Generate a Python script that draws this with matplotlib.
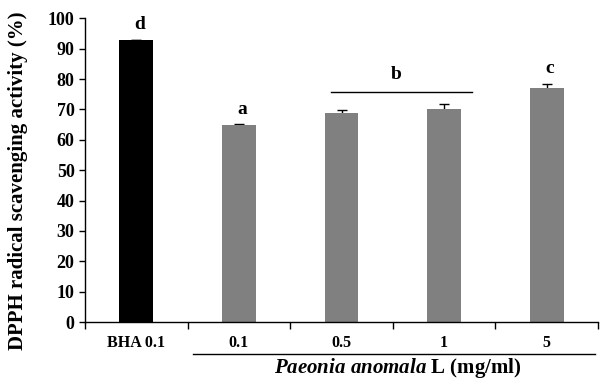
import matplotlib
matplotlib.use("Agg")
import matplotlib.pyplot as plt
import numpy as np

categories = ["BHA 0.1", "0.1", "0.5", "1", "5"]
values = [92.7, 64.8, 68.8, 70.1, 76.9]
errors = [0.0, 0.4, 0.9, 1.8, 1.3]
colors = ["black", "#808080", "#808080", "#808080", "#808080"]
letters = ["d", "a", "", "", "c"]
letter_y = [98.0, 70.0, 0, 0, 83.5]

plt.rcParams["font.family"] = ["Liberation Serif", "DejaVu Serif"]
plt.rcParams["font.weight"] = "bold"
plt.rcParams["mathtext.fontset"] = "custom"
plt.rcParams["mathtext.rm"] = "Liberation Serif:bold"
plt.rcParams["mathtext.it"] = "Liberation Serif:italic:bold"
plt.rcParams["mathtext.bf"] = "Liberation Serif:bold"

fig = plt.figure(figsize=(6.13, 3.85), dpi=100)
ax = fig.add_axes([0.1387, 0.1636, 0.8368, 0.789])

x = np.arange(len(categories))
# error bars behind the bars so only the upper half shows
ax.errorbar(x, values, yerr=errors, fmt="none", ecolor="black",
            capsize=3.5, elinewidth=1, capthick=1, zorder=1)
ax.bar(x, values, width=0.33, color=colors, zorder=2)

for xi, lab, yy in zip(x, letters, letter_y):
    if lab:
        ax.text(xi + 0.03, yy, lab, ha="center", va="center", fontsize=14, fontweight="bold")

# group line for b
ax.plot([1.9, 3.27], [75.7, 75.7], color="black", lw=1, clip_on=False)
ax.text(2.53, 81.5, "b", ha="center", va="center", fontsize=14, fontweight="bold")

ax.set_xlim(-0.5, 4.5)
ax.set_ylim(0, 100)
ax.set_yticks(range(0, 101, 10))
ax.set_xticks(np.arange(-0.5, 5, 1))
ax.set_xticklabels([])
ax.set_xticks(x, minor=True)
ax.set_xticklabels(categories, minor=True)
ax.tick_params(axis="x", which="minor", length=0, pad=9, labelsize=11.5)
ax.tick_params(axis="x", which="major", direction="out", length=5, width=1)
ax.tick_params(axis="y", direction="out", length=4, width=1, labelsize=13)
for lab in ax.get_xticklabels(minor=True) + ax.get_yticklabels():
    lab.set_fontweight("bold")

ax.spines["top"].set_visible(False)
ax.spines["right"].set_visible(False)
ax.spines["left"].set_linewidth(1)
ax.spines["bottom"].set_linewidth(1)

ax.set_ylabel("DPPH radical scavenging activity (%)", fontsize=15, fontweight="bold")
ax.yaxis.set_label_coords(-0.111, 0.465)

# line under the Paeonia categories
ax.plot([0.55, 4.47], [-10.5, -10.5], color="black", lw=1, clip_on=False)
ax.text(2.55, -15.2, r"$Paeonia\ anomala$ L (mg/ml)", ha="center", va="center",
        fontsize=15, fontweight="bold")

fig.savefig("out.png", dpi=100)
